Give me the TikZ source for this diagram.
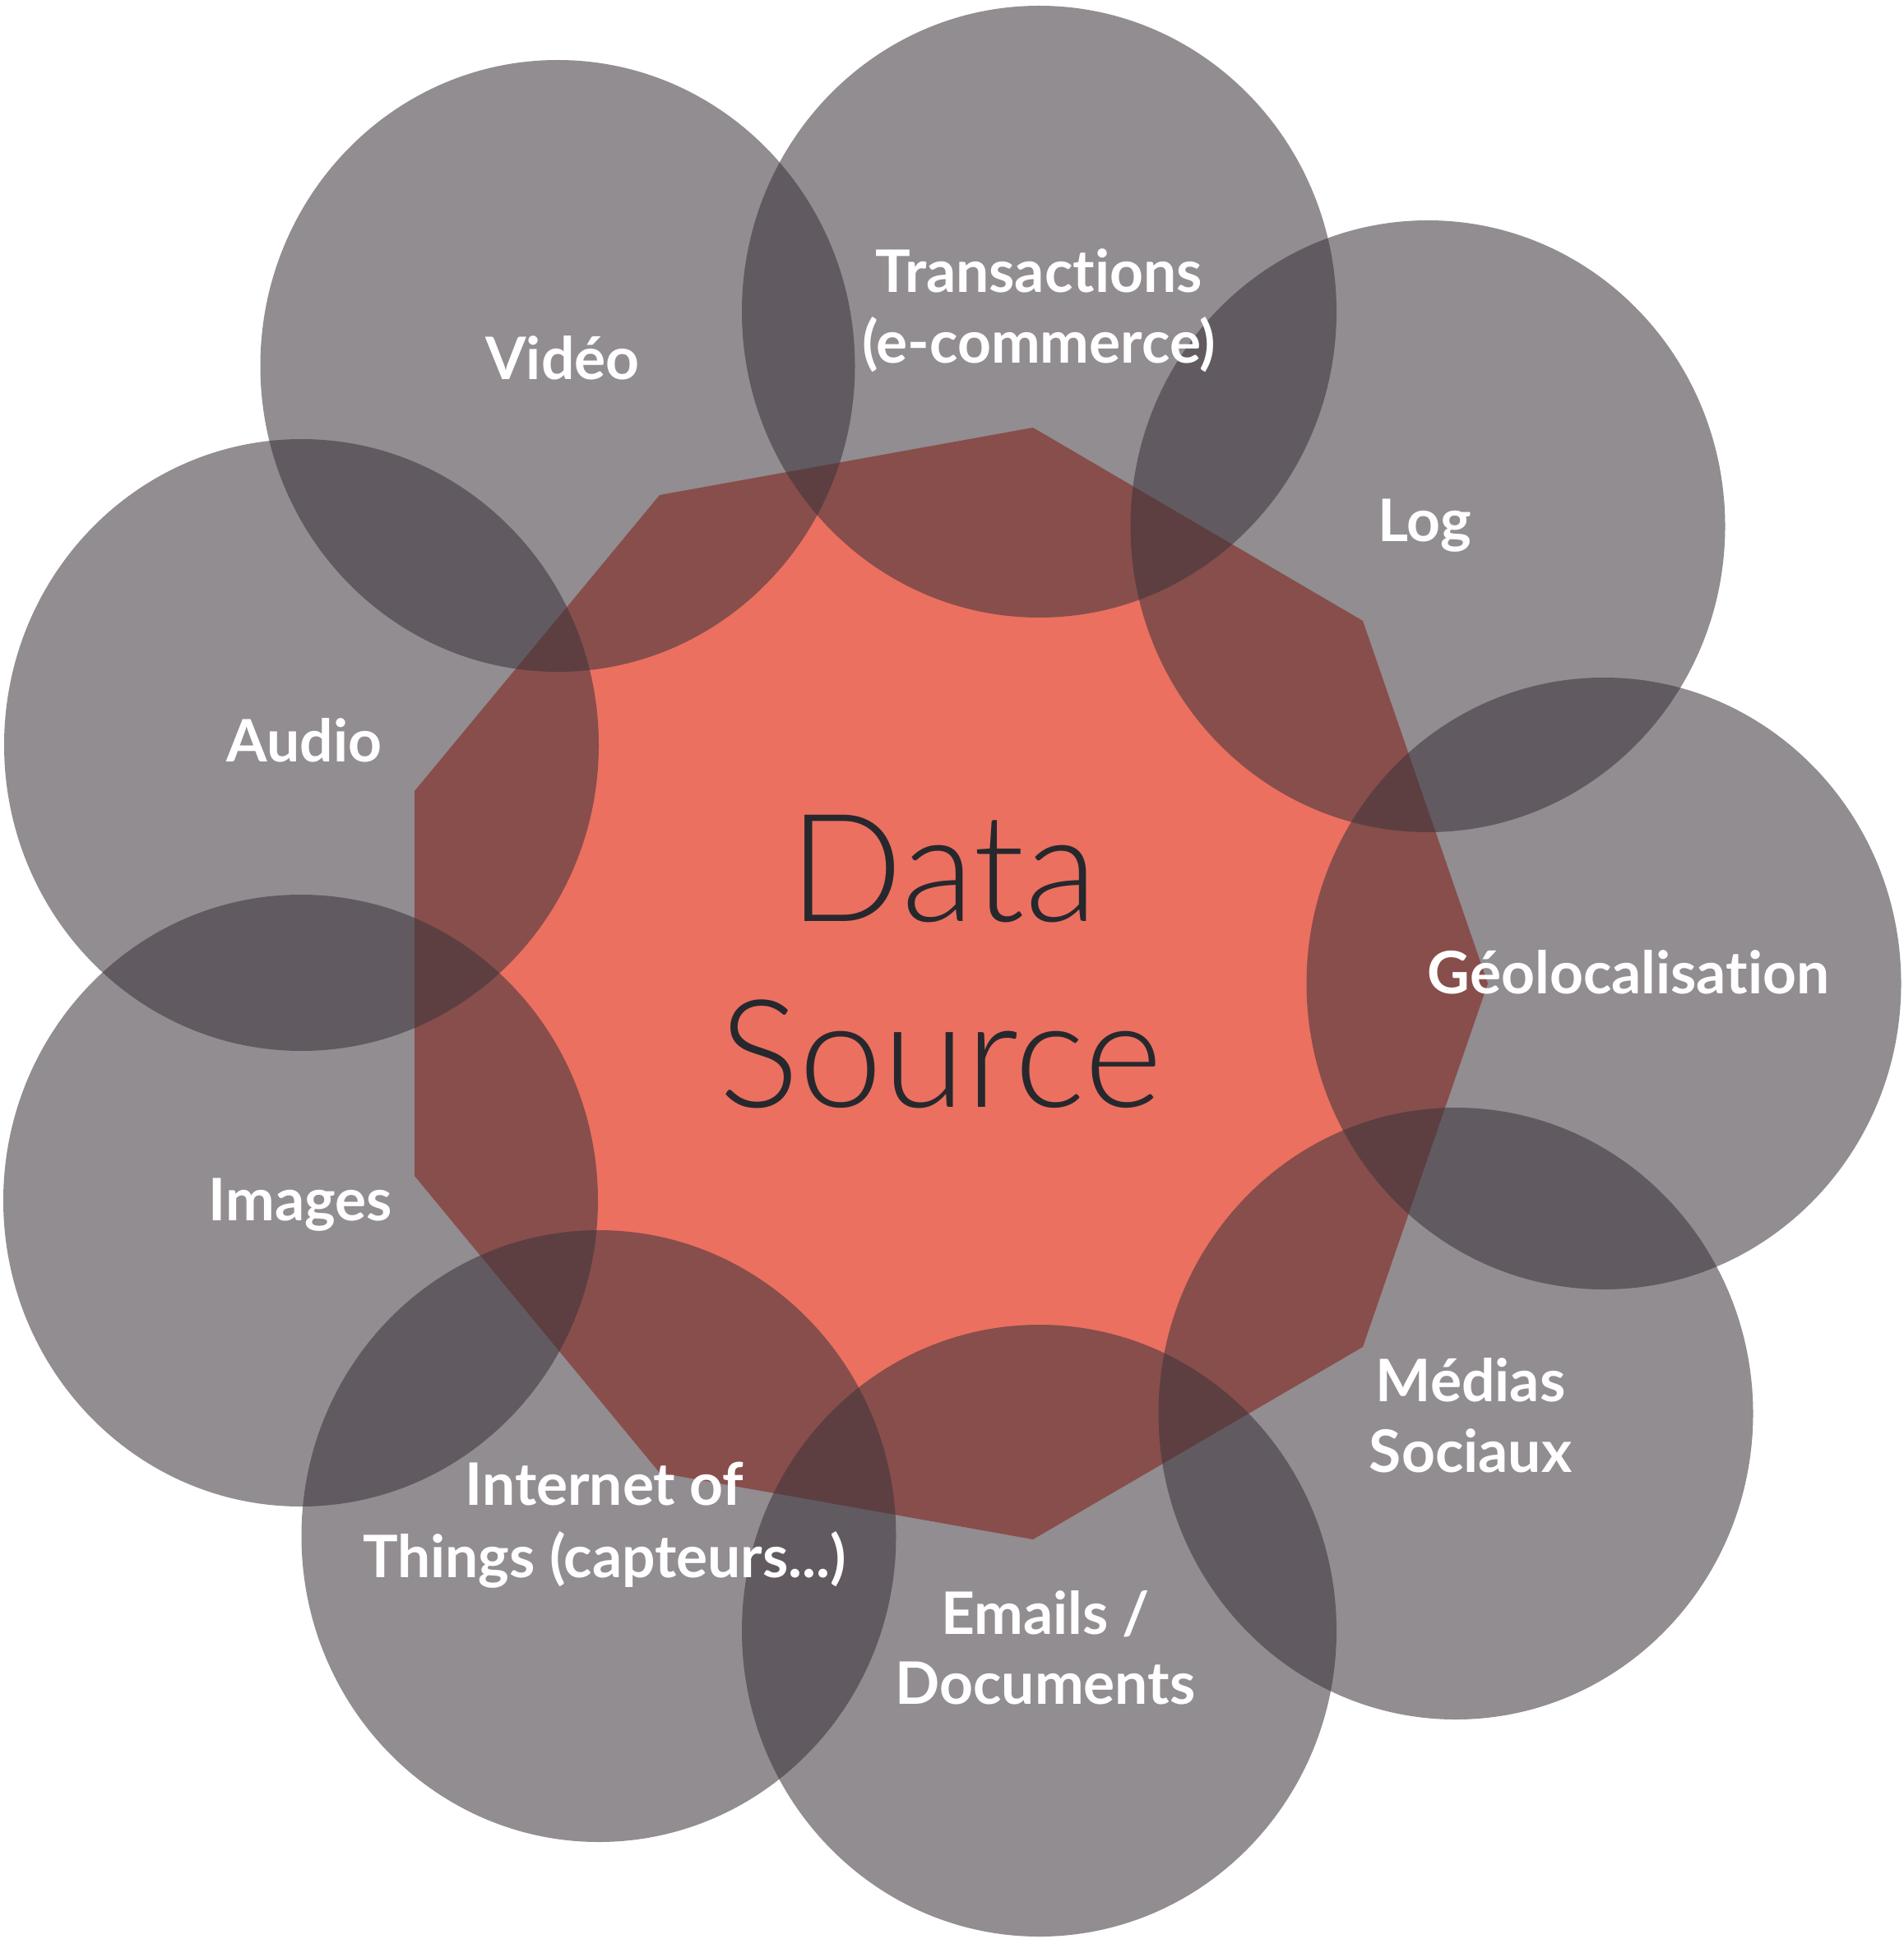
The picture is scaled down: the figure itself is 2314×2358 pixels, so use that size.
\documentclass[tikz,border=0pt]{standalone}
\usepackage{fontspec}
\setmainfont{Lato}[Ligatures=NoCommon]
\newfontfamily\latolight{Lato Light}[Ligatures=NoCommon]
\usetikzlibrary{shapes.geometric}
\definecolor{salmon}{RGB}{235,112,96}
\definecolor{blobgray}{RGB}{60,53,60}
\definecolor{inktext}{RGB}{39,40,45}
\begin{document}
\begin{tikzpicture}[x=0.3pt,y=-0.3pt,
  blob/.style={ellipse, draw=none, fill=blobgray, fill opacity=0.565,
    minimum width=216.9pt, minimum height=223.2pt, inner sep=0pt, outer sep=0pt},
  lbl/.style={anchor=base, text=white, inner sep=0pt,
    font=\bfseries\fontsize{21.4}{26}\selectfont},
  big/.style={anchor=base, text=inktext, inner sep=0pt,
    font=\latolight\fontsize{54.8}{68}\selectfont}]
\useasboundingbox (0,0) rectangle (2314,2358);
% nonagon
\coordinate (n1) at (1256,520);
\coordinate (n2) at (1657,755);
\coordinate (n3) at (1809,1196);
\coordinate (n4) at (1657,1638);
\coordinate (n5) at (1256,1872);
\coordinate (n6) at (802,1791);
\coordinate (n7) at (504,1430);
\coordinate (n8) at (504,962);
\coordinate (n9) at (802,602);
\fill[salmon] (n1) -- (n2) -- (n3) -- (n4) -- (n5) -- (n6) -- (n7) -- (n8) -- (n9) -- cycle;
% circles
\node[blob] (video) at (678,445) {};
\node[blob] (trans) at (1263.5,379) {};
\node[blob] (log) at (1736,640) {};
\node[blob] (geo) at (1950,1196) {};
\node[blob] (medias) at (1770,1719) {};
\node[blob] (emails) at (1263.5,1983) {};
\node[blob] (iot) at (728,1868) {};
\node[blob] (images) at (365.5,1460) {};
\node[blob] (audio) at (366.5,906) {};
% labels
\node[lbl] (tvideo) at (684,462) {Vidéo};
\node[lbl] (ttrans1) at (1263,356) {Transactions};
\node[lbl] (ttrans2) at (1263,442) {(e-commerce)};
\node[lbl] (tlog) at (1732,659) {Log};
\node[lbl] (tgeo) at (1980,1208) {Géolocalisation};
\node[lbl] (tmed1) at (1788,1704) {Médias};
\node[lbl] (tmed2) at (1788,1790) {Sociaux};
\node[lbl] (tem1) at (1271,1987) {Emails /};
\node[lbl] (tem2) at (1271,2072) {Documents};
\node[lbl] (tiot1) at (735,1830) {Internet of};
\node[lbl] (tiot2) at (735,1918) {Things (capteurs...)};
\node[lbl] (timg) at (365.5,1484) {Images};
\node[lbl] (taud) at (370,926) {Audio};
\node[big] (tdata) at (1147,1120) {Data};
\node[big] (tsource) at (1144,1346) {Source};
\end{tikzpicture}
\end{document}
